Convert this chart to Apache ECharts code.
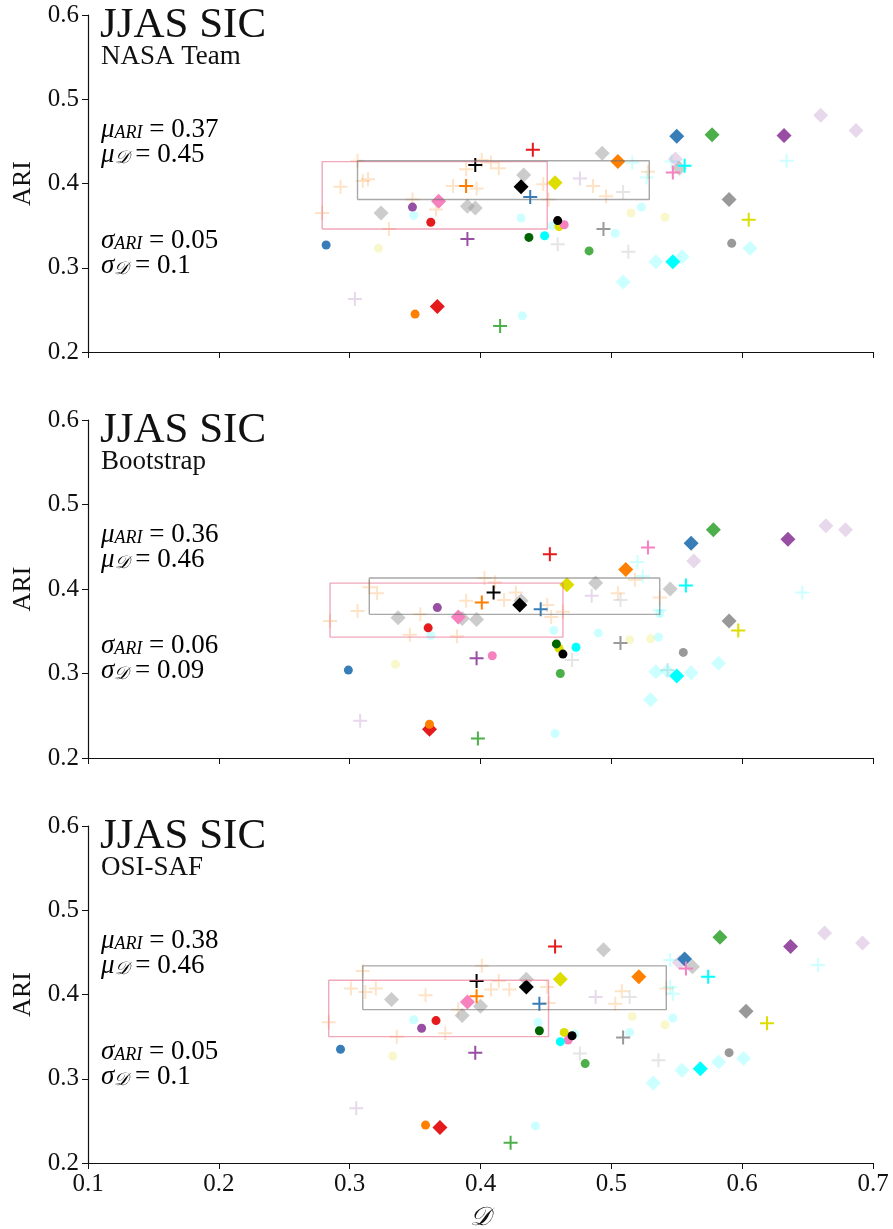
<!DOCTYPE html>
<html>
<head>
<meta charset="utf-8">
<script src="https://cdn.jsdelivr.net/npm/echarts@6/dist/echarts.min.js"></script>
<style>
  html, body { margin: 0; padding: 0; background: #fff; }
  #chart { width: 893px; height: 1229px; }
</style>
</head>
<body>
<div id="chart"></div>
<script>
// panel labels and summary stats
var panelTitle = 'JJAS SIC';
var panelNames = ['NASA Team', 'Bootstrap', 'OSI-SAF'];
var muARI = ['0.37', '0.36', '0.38'];
var muD = ['0.45', '0.46', '0.46'];
var sigmaARI = ['0.05', '0.06', '0.05'];
var sigmaD = ['0.1', '0.09', '0.1'];

// [group, D, ARI]
var ntCircles = [
  ['blue', 0.282, 0.327], ['lyellow', 0.322, 0.323], ['purple', 0.348, 0.372], ['lcyan', 0.349, 0.362],
  ['red', 0.362, 0.354], ['orange', 0.350, 0.245], ['lcyan', 0.431, 0.359], ['lcyan', 0.432, 0.243],
  ['darkgreen', 0.437, 0.336], ['cyan', 0.449, 0.338], ['lcyan', 0.455, 0.350], ['black', 0.459, 0.356],
  ['yellow', 0.460, 0.349], ['pink', 0.464, 0.351], ['green', 0.483, 0.320], ['lyellow', 0.515, 0.365],
  ['lyellow', 0.541, 0.360], ['lcyan', 0.523, 0.372], ['lcyan', 0.503, 0.341], ['gray', 0.592, 0.329]
];
var ntDiamonds = [
  ['lgray', 0.324, 0.365], ['pink', 0.368, 0.379], ['lgray', 0.390, 0.373], ['lgray', 0.396, 0.371],
  ['lgray', 0.433, 0.410], ['black', 0.431, 0.396], ['yellow', 0.457, 0.401], ['red', 0.367, 0.254],
  ['lgray', 0.493, 0.436], ['orange', 0.505, 0.426], ['lavender', 0.549, 0.429], ['lgray', 0.552, 0.418],
  ['blue', 0.550, 0.456], ['green', 0.577, 0.458], ['purple', 0.632, 0.457], ['lavender', 0.660, 0.481],
  ['lavender', 0.687, 0.463], ['gray', 0.590, 0.381], ['lcyan', 0.606, 0.323], ['lcyan', 0.534, 0.307],
  ['lcyan', 0.554, 0.313], ['cyan', 0.547, 0.307], ['lcyan', 0.509, 0.283]
];
var ntPluses = [
  ['peach', 0.306, 0.427], ['peach', 0.293, 0.396], ['peach', 0.310, 0.403], ['peach', 0.314, 0.405],
  ['peach', 0.279, 0.365], ['peach', 0.330, 0.346], ['peach', 0.348, 0.381], ['peach', 0.366, 0.369],
  ['peach', 0.379, 0.397], ['peach', 0.389, 0.417], ['peach', 0.397, 0.394], ['peach', 0.401, 0.428],
  ['peach', 0.408, 0.425], ['peach', 0.414, 0.418], ['peach', 0.448, 0.399], ['peach', 0.452, 0.381],
  ['peach', 0.486, 0.397], ['peach', 0.496, 0.385], ['peach', 0.528, 0.414],
  ['lavender', 0.476, 0.406], ['lavender', 0.304, 0.263],
  ['silver', 0.459, 0.328], ['silver', 0.509, 0.390], ['silver', 0.513, 0.319],
  ['lcyan', 0.516, 0.425], ['lcyan', 0.527, 0.407], ['lcyan', 0.546, 0.426], ['lcyan', 0.634, 0.427],
  ['black', 0.396, 0.422], ['orange', 0.389, 0.397], ['red', 0.440, 0.440], ['blue', 0.438, 0.384],
  ['purple', 0.390, 0.334], ['green', 0.415, 0.231], ['gray', 0.494, 0.346], ['yellow', 0.605, 0.357],
  ['pink', 0.547, 0.413], ['cyan', 0.556, 0.421]
];

var bsCircles = [
  ['blue', 0.299, 0.304], ['lyellow', 0.335, 0.311], ['purple', 0.367, 0.378], ['red', 0.360, 0.354],
  ['lcyan', 0.362, 0.345], ['orange', 0.361, 0.240], ['pink', 0.409, 0.321], ['lcyan', 0.456, 0.351],
  ['lcyan', 0.490, 0.348], ['darkgreen', 0.458, 0.335], ['yellow', 0.460, 0.330], ['black', 0.463, 0.323],
  ['cyan', 0.473, 0.331], ['green', 0.461, 0.300], ['lcyan', 0.457, 0.229], ['lyellow', 0.514, 0.340],
  ['lyellow', 0.530, 0.341], ['lcyan', 0.536, 0.343], ['lcyan', 0.537, 0.371], ['gray', 0.555, 0.325]
];
var bsDiamonds = [
  ['lgray', 0.337, 0.366], ['pink', 0.383, 0.367], ['lgray', 0.386, 0.365], ['lgray', 0.397, 0.364],
  ['lgray', 0.431, 0.386], ['black', 0.430, 0.381], ['yellow', 0.466, 0.405], ['lgray', 0.488, 0.407],
  ['red', 0.361, 0.234], ['orange', 0.511, 0.423], ['lgray', 0.545, 0.400], ['blue', 0.561, 0.454],
  ['lavender', 0.563, 0.433], ['green', 0.578, 0.470], ['purple', 0.635, 0.459], ['lavender', 0.664, 0.475],
  ['lavender', 0.679, 0.470], ['gray', 0.590, 0.362], ['lcyan', 0.534, 0.302], ['lcyan', 0.561, 0.301],
  ['lcyan', 0.582, 0.312], ['lcyan', 0.543, 0.303], ['cyan', 0.550, 0.297], ['lcyan', 0.530, 0.269]
];
var bsPluses = [
  ['peach', 0.285, 0.362], ['peach', 0.306, 0.374], ['peach', 0.315, 0.402], ['peach', 0.321, 0.395],
  ['peach', 0.346, 0.346], ['peach', 0.354, 0.370], ['peach', 0.382, 0.344], ['peach', 0.389, 0.386],
  ['peach', 0.403, 0.413], ['peach', 0.411, 0.408], ['peach', 0.418, 0.387], ['peach', 0.427, 0.396],
  ['peach', 0.451, 0.381], ['peach', 0.454, 0.367], ['peach', 0.463, 0.373], ['peach', 0.505, 0.395],
  ['peach', 0.518, 0.411], ['peach', 0.537, 0.390],
  ['lavender', 0.308, 0.244], ['lavender', 0.485, 0.392],
  ['silver', 0.470, 0.316], ['silver', 0.507, 0.387], ['silver', 0.543, 0.304],
  ['lcyan', 0.520, 0.432], ['lcyan', 0.524, 0.415], ['lcyan', 0.537, 0.375], ['lcyan', 0.646, 0.396],
  ['orange', 0.401, 0.384], ['black', 0.410, 0.396], ['red', 0.453, 0.441], ['blue', 0.446, 0.376],
  ['purple', 0.397, 0.318], ['green', 0.398, 0.223], ['gray', 0.507, 0.336], ['yellow', 0.597, 0.351],
  ['pink', 0.528, 0.449], ['cyan', 0.557, 0.404]
];

var osCircles = [
  ['blue', 0.293, 0.335], ['lyellow', 0.333, 0.327], ['lcyan', 0.349, 0.370], ['purple', 0.355, 0.360],
  ['red', 0.366, 0.369], ['orange', 0.358, 0.245], ['lcyan', 0.444, 0.367], ['darkgreen', 0.445, 0.357],
  ['yellow', 0.464, 0.355], ['lcyan', 0.472, 0.353], ['black', 0.470, 0.351], ['pink', 0.467, 0.346],
  ['cyan', 0.461, 0.344], ['green', 0.480, 0.318], ['lcyan', 0.442, 0.244], ['lyellow', 0.516, 0.374],
  ['lyellow', 0.541, 0.364], ['lcyan', 0.547, 0.372], ['lcyan', 0.514, 0.355], ['gray', 0.590, 0.331]
];
var osDiamonds = [
  ['lgray', 0.332, 0.394], ['pink', 0.390, 0.391], ['lgray', 0.386, 0.375], ['lgray', 0.400, 0.386],
  ['lgray', 0.435, 0.418], ['black', 0.435, 0.409], ['yellow', 0.461, 0.418], ['lgray', 0.494, 0.453],
  ['red', 0.369, 0.242], ['orange', 0.521, 0.421], ['lavender', 0.552, 0.438], ['blue', 0.556, 0.442],
  ['lgray', 0.562, 0.433], ['green', 0.583, 0.468], ['purple', 0.637, 0.457], ['lavender', 0.663, 0.473],
  ['lavender', 0.692, 0.461], ['gray', 0.603, 0.380], ['lcyan', 0.601, 0.324], ['lcyan', 0.582, 0.320],
  ['lcyan', 0.554, 0.310], ['lcyan', 0.532, 0.295], ['cyan', 0.568, 0.312]
];
var osPluses = [
  ['peach', 0.310, 0.428], ['peach', 0.301, 0.407], ['peach', 0.312, 0.403], ['peach', 0.320, 0.407],
  ['peach', 0.284, 0.367], ['peach', 0.336, 0.350], ['peach', 0.358, 0.399], ['peach', 0.373, 0.354],
  ['peach', 0.383, 0.382], ['peach', 0.401, 0.434], ['peach', 0.408, 0.406], ['peach', 0.414, 0.416],
  ['peach', 0.422, 0.406], ['peach', 0.451, 0.409], ['peach', 0.452, 0.390], ['peach', 0.508, 0.404],
  ['peach', 0.503, 0.389], ['peach', 0.542, 0.407],
  ['lavender', 0.305, 0.265], ['lavender', 0.488, 0.397],
  ['silver', 0.476, 0.330], ['silver', 0.514, 0.397], ['silver', 0.536, 0.322],
  ['lcyan', 0.545, 0.441], ['lcyan', 0.545, 0.409], ['lcyan', 0.547, 0.401], ['lcyan', 0.658, 0.435],
  ['black', 0.397, 0.416], ['orange', 0.397, 0.398], ['red', 0.457, 0.457], ['blue', 0.445, 0.389],
  ['purple', 0.396, 0.331], ['green', 0.423, 0.224], ['gray', 0.509, 0.349], ['yellow', 0.619, 0.366],
  ['pink', 0.557, 0.431], ['cyan', 0.574, 0.421]
];

// boxes [D min, ARI min, D max, ARI max]
var ntPinkBox = [0.279, 0.346, 0.451, 0.426];
var ntGrayBox = [0.306, 0.381, 0.529, 0.427];
var bsPinkBox = [0.285, 0.343, 0.463, 0.407];
var bsGrayBox = [0.315, 0.370, 0.537, 0.413];
var osPinkBox = [0.284, 0.350, 0.452, 0.417];
var osGrayBox = [0.310, 0.382, 0.542, 0.434];

var groupOrder = ['peach', 'silver', 'lcyan', 'lyellow', 'lavender', 'lgray',
  'red', 'blue', 'green', 'purple', 'orange', 'yellow', 'pink', 'gray', 'darkgreen', 'cyan', 'black'];
var groupColors = {
  peach: 'rgba(255,127,0,0.22)', silver: 'rgba(153,153,153,0.25)', lcyan: 'rgba(0,255,255,0.2)',
  lyellow: 'rgba(221,221,0,0.2)', lavender: 'rgba(152,78,163,0.22)', lgray: 'rgba(153,153,153,0.5)',
  red: '#e41a1c', blue: '#377eb8', green: '#4daf4a', purple: '#984ea3', orange: '#ff7f00',
  yellow: '#dddd00', pink: '#f781bf', gray: '#999999', darkgreen: '#006400', cyan: '#00ffff', black: '#000000'
};

var FONT = '"Liberation Serif", "DejaVu Serif", serif';
var PLUS = 'path://M6,0H8V6H14V8H8V14H6V8H0V6H6Z';
var gridTops = [15, 420, 826];
var gridHeights = [337, 338, 337];

var panels = [
  [ntCircles, ntDiamonds, ntPluses, ntPinkBox, ntGrayBox],
  [bsCircles, bsDiamonds, bsPluses, bsPinkBox, bsGrayBox],
  [osCircles, osDiamonds, osPluses, osPinkBox, osGrayBox]
];

var chart = echarts.init(document.getElementById('chart'));
var grids = [], xAxes = [], yAxes = [], series = [], graphics = [];

function boxLine(b){
  return [[b[0], b[1]], [b[2], b[1]], [b[2], b[3]], [b[0], b[3]], [b[0], b[1]]];
}

panels.forEach(function(pd, p){
  grids.push({left: 88, top: gridTops[p], width: 785, height: gridHeights[p],
    containLabel: false, outerBoundsMode: 'none'});
  xAxes.push({
    type: 'value', gridIndex: p, min: 0.1, max: 0.7, interval: 0.1,
    axisLine: {show: true, onZero: false, lineStyle: {color: '#111', width: 1.2}},
    axisTick: {show: true, length: 6, lineStyle: {color: '#111', width: 1}},
    splitLine: {show: false},
    axisLabel: {show: p == 2, margin: 9, color: '#111', fontFamily: FONT, fontSize: 25,
      formatter: function(v){ return v.toFixed(1); }},
    name: p == 2 ? '\uD835\uDC9F' : '', nameLocation: 'middle', nameGap: 42,
    nameTextStyle: {color: '#111', fontFamily: FONT, fontSize: 26, fontStyle: 'italic'}
  });
  yAxes.push({
    type: 'value', gridIndex: p, min: 0.2, max: 0.6, interval: 0.1,
    axisLine: {show: true, onZero: false, lineStyle: {color: '#111', width: 1.2}},
    axisTick: {show: true, length: 6, lineStyle: {color: '#111', width: 1}},
    splitLine: {show: false},
    axisLabel: {margin: 9, color: '#111', fontFamily: FONT, fontSize: 25,
      formatter: function(v){ return v.toFixed(1); }},
    name: 'ARI', nameLocation: 'middle', nameGap: 52, nameRotate: 90,
    nameTextStyle: {color: '#111', fontFamily: FONT, fontSize: 26}
  });

  var markers = [
    {list: pd[0], symbol: 'circle', size: 9},
    {list: pd[1], symbol: 'diamond', size: 15},
    {list: pd[2], symbol: PLUS, size: 14}
  ];
  groupOrder.forEach(function(g){
    markers.forEach(function(m){
      var pts = m.list.filter(function(d){ return d[0] == g; }).map(function(d){ return [d[1], d[2]]; });
      if(pts.length == 0)
        return;
      series.push({
        type: 'scatter', xAxisIndex: p, yAxisIndex: p, silent: true,
        symbol: m.symbol, symbolSize: m.size, data: pts,
        itemStyle: {color: groupColors[g], opacity: 1}
      });
    });
  });

  // boxes
  series.push({
    type: 'line', xAxisIndex: p, yAxisIndex: p, silent: true, symbol: 'none', z: 3,
    data: boxLine(pd[3]), lineStyle: {color: 'rgba(232,110,140,0.6)', width: 1.4}
  });
  series.push({
    type: 'line', xAxisIndex: p, yAxisIndex: p, silent: true, symbol: 'none', z: 3,
    data: boxLine(pd[4]), lineStyle: {color: 'rgba(110,110,110,0.6)', width: 1.4}
  });

  // text
  var T = gridTops[p];
  var rich = {
    g: {fontFamily: FONT, fontStyle: 'italic', fontSize: 27, lineHeight: 25, color: '#111'},
    s: {fontFamily: FONT, fontStyle: 'italic', fontSize: 18, lineHeight: 14, verticalAlign: 'bottom', color: '#111'},
    n: {fontFamily: FONT, fontSize: 27, lineHeight: 25, color: '#111'}
  };
  graphics.push({type: 'text', x: 100, y: T + 11, silent: true,
    style: {text: panelTitle, fontFamily: FONT, fontSize: 43, fill: '#111', verticalAlign: 'middle'}});
  graphics.push({type: 'text', x: 101, y: T + 42, silent: true,
    style: {text: panelNames[p], fontFamily: FONT, fontSize: 27, fill: '#111', verticalAlign: 'middle'}});
  var lines = [
    ['\u03BC', 'ARI', muARI[p], 115],
    ['\u03BC', '\uD835\uDC9F', muD[p], 140],
    ['\u03C3', 'ARI', sigmaARI[p], 226],
    ['\u03C3', '\uD835\uDC9F', sigmaD[p], 251]
  ];
  lines.forEach(function(l){
    graphics.push({type: 'text', x: 101, y: T + l[3], silent: true,
      style: {text: '{g|' + l[0] + '}{s|' + l[1] + '}{n| = ' + l[2] + '}', rich: rich, verticalAlign: 'middle'}});
  });
});

chart.setOption({
  animation: false,
  backgroundColor: '#fff',
  grid: grids,
  xAxis: xAxes,
  yAxis: yAxes,
  series: series,
  graphic: graphics
});
</script>
</body>
</html>
